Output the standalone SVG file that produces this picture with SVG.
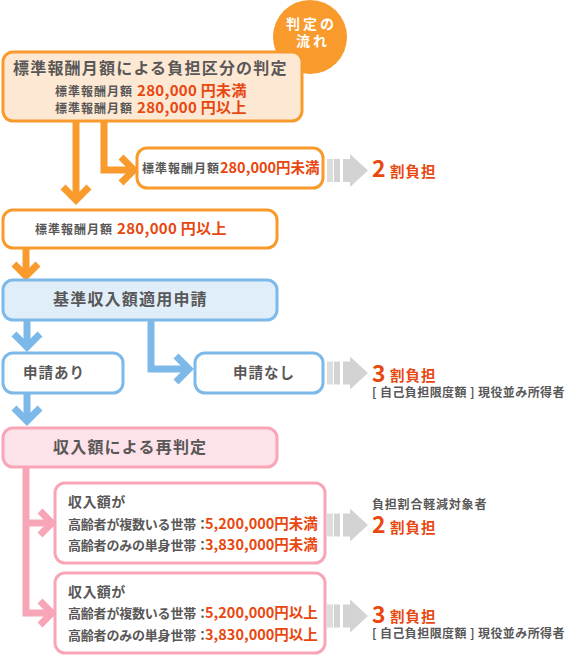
<svg xmlns="http://www.w3.org/2000/svg" width="573" height="655" viewBox="0 0 573 655">
<style>
text{font-family:"Noto Sans CJK JP","Noto Sans",sans-serif;font-weight:700;fill:#595757}
.red{fill:#E8470F}
.o{fill:none;stroke:#F89A2C;stroke-width:7;stroke-linejoin:miter}
.b{fill:none;stroke:#7DB9E8;stroke-width:7;stroke-linejoin:miter}
.p{fill:none;stroke:#F8A5B8;stroke-width:7;stroke-linejoin:miter}
.bo{fill:#fff;stroke:#F89A2C;stroke-width:3}
.bb{fill:#fff;stroke:#7DB9E8;stroke-width:3}
.bp{fill:#fff;stroke:#F8A5B8;stroke-width:3}
.s12{font-size:12px;letter-spacing:1px}
.big{font-size:16px;letter-spacing:1.2px}
.num{font-size:15px;letter-spacing:0.3px}
.num2{font-size:14.5px;letter-spacing:0px}
.w{fill:#fff;font-size:14px;letter-spacing:3px}
.rn{font-size:23px}
.rt{font-size:14.5px;letter-spacing:1px}
</style>
<defs>
<g id="garrow">
<rect x="0" y="-11.5" width="6" height="23" fill="#DDDDDD"/>
<rect x="7" y="-11.5" width="6" height="23" fill="#D3D3D3"/>
<polygon points="16,-11.5 23,-11.5 23,-16.5 41,0 23,16.5 23,11.5 16,11.5" fill="#D3D3D3"/>
</g>
</defs>

<g id="connectors">
<polyline class="o" points="76,121 76,199"/>
<polyline class="o" points="63,187 76,200 89,187"/>
<polyline class="o" points="104,121 104,170 132,170"/>
<polyline class="o" points="121,157 134,170 121,183"/>
<polyline class="o" points="26,248 26,275"/>
<polyline class="o" points="14,264 26,276 38,264"/>
<polyline class="b" points="27,320 27,345"/>
<polyline class="b" points="14,334 27,347 40,334"/>
<polyline class="b" points="151,320 151,369 187,369"/>
<polyline class="b" points="176,356 189,369 176,382"/>
<polyline class="b" points="27,393 27,419"/>
<polyline class="b" points="14,408 27,421 40,408"/>
<polyline class="p" points="26,467 26,613 51,613"/>
<polyline class="p" points="26,523 51,523"/>
<polyline class="p" points="40,511 52,523 40,535"/>
<polyline class="p" points="40,601 52,613 40,625"/>
<use href="#garrow" x="327" y="170.5"/>
<use href="#garrow" x="327" y="373"/>
<use href="#garrow" x="327" y="525"/>
<use href="#garrow" x="327" y="616"/>
</g>

<g id="badge">
<circle cx="310" cy="37" r="37" fill="#F89A2C"/>
<text class="w" x="311.5" y="29" text-anchor="middle">判定の</text>
<text class="w" x="313" y="46" text-anchor="middle">流れ</text>
</g>

<g id="n1">
<rect x="3" y="52" width="299" height="69" rx="10" fill="#FDE8D4" stroke="#F89A2C" stroke-width="3"/>
<text class="big" x="13" y="74">標準報酬月額による負担区分の判定</text>
<text x="55" y="96"><tspan class="s12">標準報酬月額</tspan><tspan class="red num" x="137">280,000 円未満</tspan></text>
<text x="55" y="113"><tspan class="s12">標準報酬月額</tspan><tspan class="red num" x="137">280,000 円以上</tspan></text>
</g>

<g id="n2">
<rect class="bo" x="137" y="148" width="186" height="40" rx="10"/>
<text x="142" y="173"><tspan class="s12" letter-spacing="0.5">標準報酬月額</tspan><tspan class="red num2" x="220">280,000円未満</tspan></text>
</g>

<g id="r1">
<text class="red rn" x="372" y="177">2</text>
<text class="red rt" x="390" y="177">割負担</text>
</g>

<g id="n3">
<rect class="bo" x="3" y="210" width="274" height="38" rx="10"/>
<text x="35" y="234"><tspan class="s12">標準報酬月額</tspan><tspan class="red num" x="117">280,000 円以上</tspan></text>
</g>

<g id="n4">
<rect x="3" y="280" width="274" height="40" rx="10" fill="#E0EEFA" stroke="#7DB9E8" stroke-width="3"/>
<text class="big" x="53" y="305">基準収入額適用申請</text>
</g>

<g id="n5">
<rect class="bb" x="3" y="353" width="120" height="40" rx="10"/>
<text x="23" y="378" font-size="14.5" letter-spacing="1">申請あり</text>
</g>

<g id="n6">
<rect class="bb" x="195" y="353" width="128" height="40" rx="10"/>
<text x="233" y="378" font-size="14.5" letter-spacing="1">申請なし</text>
</g>

<g id="r2">
<text class="red rn" x="372" y="382">3</text>
<text class="red rt" x="390" y="381">割負担</text>
<text x="372" y="397" font-size="12" letter-spacing="0.4">[ 自己負担限度額 ] 現役並み所得者</text>
</g>

<g id="n7">
<rect x="3" y="428" width="274" height="39" rx="10" fill="#FDE3E9" stroke="#F8A5B8" stroke-width="3"/>
<text class="big" x="53" y="453">収入額による再判定</text>
</g>

<g id="n8">
<rect class="bp" x="55" y="483" width="270" height="80" rx="10"/>
<text x="68" y="507" font-size="14" letter-spacing="0.4">収入額が</text>
<text x="68" y="529"><tspan font-size="13" letter-spacing="-0.2">高齢者が複数いる世帯：</tspan><tspan class="red num2" x="205">5,200,000円未満</tspan></text>
<text x="68" y="550"><tspan font-size="13" letter-spacing="-0.2">高齢者のみの単身世帯：</tspan><tspan class="red num2" x="205">3,830,000円未満</tspan></text>
</g>

<g id="r3">
<text x="372" y="509" font-size="12" letter-spacing="0.8">負担割合軽減対象者</text>
<text class="red rn" x="372" y="533">2</text>
<text class="red rt" x="390" y="533">割負担</text>
</g>

<g id="n9">
<rect class="bp" x="55" y="573" width="270" height="80" rx="10"/>
<text x="68" y="597" font-size="14" letter-spacing="0.4">収入額が</text>
<text x="68" y="618"><tspan font-size="13" letter-spacing="-0.2">高齢者が複数いる世帯：</tspan><tspan class="red num2" x="205">5,200,000円以上</tspan></text>
<text x="68" y="640"><tspan font-size="13" letter-spacing="-0.2">高齢者のみの単身世帯：</tspan><tspan class="red num2" x="205">3,830,000円以上</tspan></text>
</g>

<g id="r4">
<text class="red rn" x="372" y="623">3</text>
<text class="red rt" x="390" y="622">割負担</text>
<text x="372" y="638" font-size="12" letter-spacing="0.4">[ 自己負担限度額 ] 現役並み所得者</text>
</g>
</svg>
